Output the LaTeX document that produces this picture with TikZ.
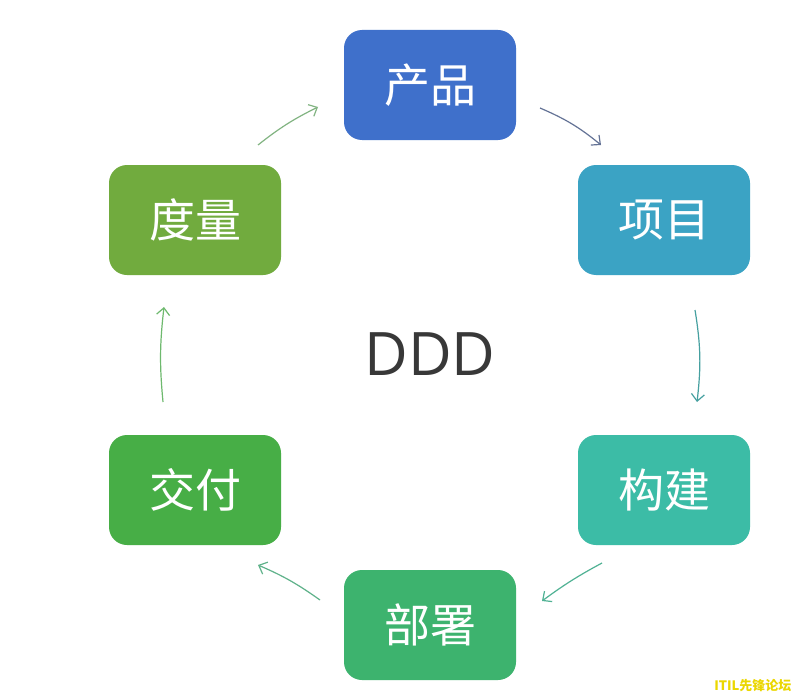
\documentclass[tikz,border=0pt]{standalone}
\usepackage{fontspec}
\newfontfamily\cjk{Noto Sans CJK SC}
\newfontfamily\ddd{Open Sans}
\usetikzlibrary{arrows.meta}
\definecolor{cA}{HTML}{3F70CB}
\definecolor{cB}{HTML}{3BA3C4}
\definecolor{cC}{HTML}{3CBCA6}
\definecolor{cD}{HTML}{3DB36E}
\definecolor{cE}{HTML}{47AE46}
\definecolor{cF}{HTML}{71AB3E}
\definecolor{l1}{RGB}{100,115,150}
\definecolor{l2}{RGB}{70,160,160}
\definecolor{l3}{RGB}{80,178,148}
\definecolor{l4}{RGB}{95,178,138}
\definecolor{l5}{RGB}{110,185,110}
\definecolor{l6}{RGB}{130,180,130}
\definecolor{wmc}{RGB}{235,215,0}
\tikzset{
  stage/.style={draw=none, fill=#1, rounded corners=18pt, minimum width=172pt, minimum height=110pt,
    inner sep=0pt, text=white, font=\cjk\fontsize{46}{50}\selectfont},
  flow/.style={draw=#1, line width=1.2pt, -{Straight Barb[length=7pt,width=13pt]}}
}
\begin{document}
\begin{tikzpicture}[x=1pt,y=-1pt]
\useasboundingbox (0,0) rectangle (797,698);
\fill[white] (0,0) rectangle (797,698);
\node[stage=cA] (p) at (430,85) {产品};
\node[stage=cB] (x) at (664,220) {项目};
\node[stage=cC] (g) at (664,490) {构建};
\node[stage=cD] (b) at (430,625) {部署};
\node[stage=cE] (j) at (195,490) {交付};
\node[stage=cF] (d) at (195,220) {度量};
\node[text=black!78, font=\ddd\fontsize{60}{70}\selectfont] (ddd) at (430,354) {DDD};
\node[font=\cjk\bfseries\fontsize{13}{15}\selectfont, text=wmc, anchor=east] (wm) at (795,686) {ITIL先锋论坛};
\coordinate (a1s) at (540,108); \coordinate (a1e) at (601,145);
\coordinate (a2s) at (695,310); \coordinate (a2e) at (697,402);
\coordinate (a3s) at (602,563); \coordinate (a3e) at (542,601);
\coordinate (a4s) at (320,600); \coordinate (a4e) at (258,565);
\coordinate (a5s) at (163,402); \coordinate (a5e) at (164,307);
\coordinate (a6s) at (258,145); \coordinate (a6e) at (318,107);
\draw[flow=l1] (a1s) to[bend left=8] (a1e);
\draw[flow=l2] (a2s) to[bend left=8] (a2e);
\draw[flow=l3] (a3s) to[bend right=4] (a3e);
\draw[flow=l4] (a4s) to[bend right=6] (a4e);
\draw[flow=l5] (a5s) to[bend left=6] (a5e);
\draw[flow=l6] (a6s) to[bend left=6] (a6e);
\end{tikzpicture}
\end{document}
